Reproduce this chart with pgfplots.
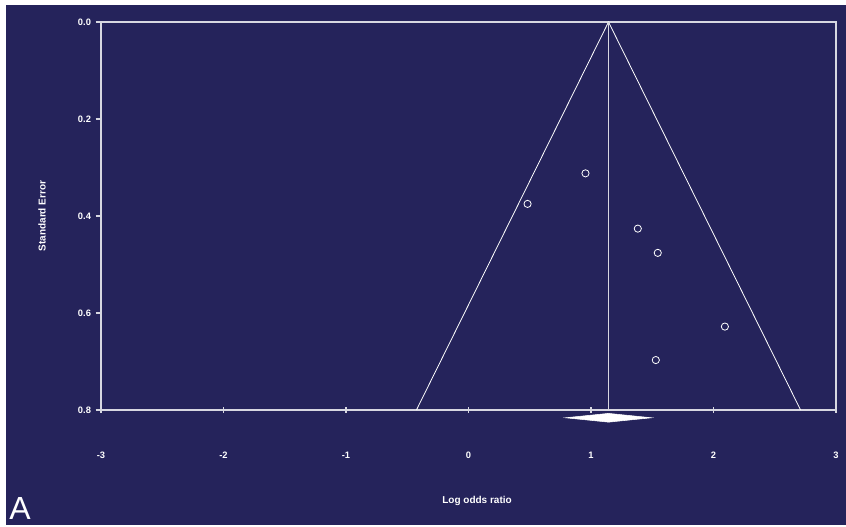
\documentclass[border=0pt]{standalone}
\usepackage{pgfplots}
\pgfplotsset{compat=1.18}
\usepackage{fontspec}
\setmainfont{Liberation Sans}
\usetikzlibrary{backgrounds}
\definecolor{navy}{RGB}{37,35,91}
\definecolor{frame}{RGB}{215,215,225}

\begin{document}
\begin{tikzpicture}
\begin{axis}[
	scale only axis,
	width=551.25pt,
	height=291pt,
	at={(0,0)},
	anchor=south west,
	xmin=-3, xmax=3,
	ymin=0, ymax=0.8,
	y dir=reverse,
	clip=false,
	axis line style={frame, line width=0.8pt},
	xtick={-3,-2,-1,0,1,2,3},
	ytick={0,0.2,0.4,0.6,0.8},
	x tick style={frame, line width=0.8pt},
	y tick style={frame, line width=0.8pt},
	major tick length=4pt,
	xtick align=center,
	ytick align=outside,
	xtick pos=bottom,
	ytick pos=left,
	/pgf/number format/assume math mode=true,
	yticklabel style={/pgf/number format/fixed, /pgf/number format/fixed zerofill, /pgf/number format/precision=1, font=\fontsize{7}{8}\selectfont\bfseries, text=white},
	xticklabel style={anchor=base, yshift=-34.1pt, font=\fontsize{7}{8}\selectfont\bfseries, text=white},
	xlabel={Log odds ratio},
	ylabel={Standard Error},
	xlabel style={at={(axis description cs:0.5116,0)}, anchor=center, yshift=-68pt, font=\fontsize{7.5}{9}\selectfont\bfseries, text=white},
	ylabel style={at={(axis description cs:0,0.5)}, anchor=center, yshift=44.25pt, font=\fontsize{7.5}{9}\selectfont\bfseries, text=white},
]
% funnel (pseudo 95% limits)
\addplot[white, line width=0.6pt] coordinates {(-0.425,0.8) (1.143,0) (2.711,0.8)};
% pooled estimate
\addplot[frame, line width=1pt] coordinates {(1.143,0) (1.143,0.8)};
% studies
\addplot[only marks, mark=o, mark size=2.7pt, mark options={white, line width=0.6pt}]
	coordinates {(0.955,0.312) (0.482,0.375) (1.382,0.426) (1.545,0.476) (2.093,0.628) (1.529,0.697)};
% summary diamond
\addplot[fill=white, draw=white] coordinates {(0.792,0.816) (1.143,0.807) (1.494,0.816) (1.143,0.825)} -- cycle;
\end{axis}
\node[anchor=center, text=white, font=\fontsize{24}{28}\selectfont] at (-60.75pt,-73.5pt) {A};
\begin{scope}[on background layer]
\fill[white] (-75.75pt,-87pt) rectangle (558.75pt,307.5pt);
\fill[navy] (-71.25pt,-86.25pt) rectangle (558.75pt,303.75pt);
\end{scope}
\end{tikzpicture}
\end{document}
